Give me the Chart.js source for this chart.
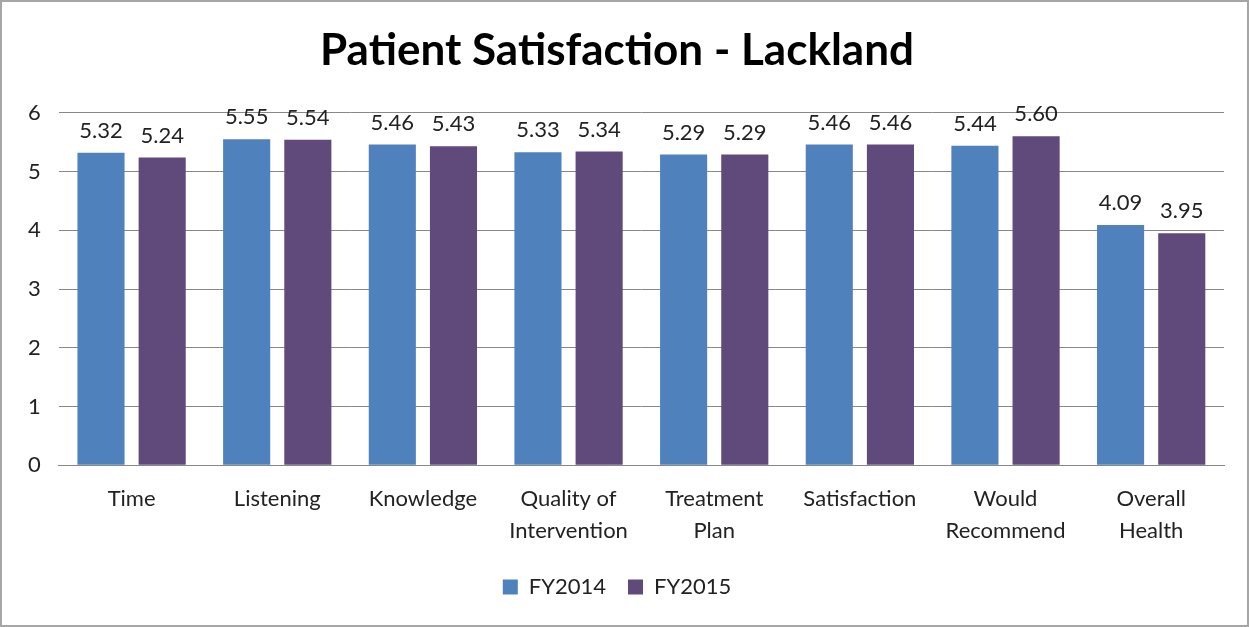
<!DOCTYPE html>
<html>
<head>
<meta charset="utf-8">
<script src="https://cdn.jsdelivr.net/npm/chart.js@4.4.0/dist/chart.umd.min.js"></script>
<style>
  body { margin: 0; background: #fff; }
  .wrap { width: 1249px; height: 627px; box-sizing: border-box; border: 2px solid #a6a6a6; }
</style>
</head>
<body>
<div class="wrap"><canvas class="mychart"></canvas></div>
<script>
/* dados */
const categorias = ['Time', 'Listening', 'Knowledge', ['Quality of', 'Intervention'], ['Treatment', 'Plan'], 'Satisfaction', ['Would', 'Recommend'], ['Overall', 'Health']]
const fy2014 = [5.32, 5.55, 5.46, 5.33, 5.29, 5.46, 5.44, 4.09]
const fy2015 = [5.24, 5.54, 5.43, 5.34, 5.29, 5.46, 5.60, 3.95]

const fonte = 'Lato, "Open Sans", sans-serif'

// escreve os valores em cima das barras
const rotulos = {
    id: 'rotulos',
    afterDatasetsDraw(chart) {
        const ctx = chart.ctx
        ctx.save()
        ctx.font = '22px ' + fonte
        ctx.fillStyle = '#222'
        ctx.textAlign = 'center'
        ctx.textBaseline = 'bottom'
        chart.data.datasets.forEach((ds, i) => {
            chart.getDatasetMeta(i).data.forEach((bar, j) => {
                ctx.fillText(ds.data[j].toFixed(2), bar.x, bar.y - 11)
            })
        })
        ctx.restore()
    }
}

let graf = document.querySelector(".mychart").getContext("2d")

const config = {
    type: 'bar',
    data: {
        labels: categorias,
        datasets: [
            {
                label: 'FY2014',
                backgroundColor: '#4f81bd',
                data: fy2014
            },
            {
                label: 'FY2015',
                backgroundColor: '#604a7b',
                data: fy2015
            }
        ]
    },
    options: {
        responsive: true,
        maintainAspectRatio: false,
        animation: false,
        layout: { padding: { left: 8, right: 23, top: 4, bottom: 17 } },
        categoryPercentage: 0.84,
        barPercentage: 0.77,
        plugins: {
            title: {
                display: true,
                text: 'Patient Satisfaction - Lackland',
                color: '#000',
                font: { family: fonte, size: 44, weight: 'bold' },
                padding: { top: 18, bottom: 36 }
            },
            legend: {
                position: 'bottom',
                labels: {
                    color: '#222',
                    font: { family: fonte, size: 22 },
                    boxWidth: 15,
                    boxHeight: 15,
                    padding: 22
                }
            },
            tooltip: { enabled: false }
        },
        scales: {
            x: {
                grid: { display: false },
                border: { color: '#888' },
                ticks: { color: '#222', font: { family: fonte, size: 22, lineHeight: 1.45 }, maxRotation: 0, padding: 10 },
                afterFit(scale) { scale.height -= 3 }
            },
            y: {
                min: 0,
                max: 6,
                border: { display: false },
                grid: { color: '#888', drawTicks: false },
                ticks: { stepSize: 1, color: '#222', font: { family: fonte, size: 22 }, padding: 18 }
            }
        }
    },
    plugins: [rotulos]
}

var myChart = new Chart(graf, config)
</script>
</body>
</html>
